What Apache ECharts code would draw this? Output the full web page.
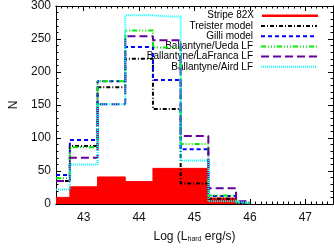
<!DOCTYPE html>
<html>
<head>
<meta charset="utf-8">
<script src="https://cdn.jsdelivr.net/npm/echarts@6/dist/echarts.min.js"></script>
<style>html,body{margin:0;padding:0;background:#fff}#c{width:334px;height:248px}</style>
</head>
<body>
<div id="c"></div>
<script>
// bin centres (log L_hard)
var centers = [42.5, 43.0, 43.5, 44.0, 44.5, 45.0, 45.5, 46.0];
var stripe82x = [10, 26, 41, 34, 54, 54, 9, 0];
var treister  = [35, 88, 177, 220, 144, 31, 8, 1];
var gilli     = [44, 97, 186, 238, 188, 83, 12, 2];
var ueda      = [39, 86, 186, 263, 237, 91, 13, 2];
var lafranca  = [35, 70, 151, 254, 248, 103, 24, 4];
var aird      = [22, 60, 151, 286, 284, 66, 4, 1];
var names = ['Stripe 82X', 'Treister model', 'Gilli model', 'Ballantyne/Ueda LF', 'Ballantyne/LaFranca LF', 'Ballantyne/Aird LF'];
var xMajor = [43, 44, 45, 46, 47];
var xMinor = [];
for (var k = 0; k <= 50; k++) { xMinor.push(Math.round((42.5 + k * 0.1) * 10) / 10); }

function pairs(v) { return centers.map(function (c, i) { return [c, v[i]]; }); }

var FONT = 'Liberation Sans, Arial, sans-serif';
var styles = [
  {color: '#ff0000', type: 'solid', width: 1},
  {color: '#000000', type: [4, 2, 1, 2], width: 2},
  {color: '#0000ff', type: [4, 3], width: 2},
  {color: '#00ee00', type: [5, 2, 1, 2, 1, 2, 1, 2], width: 2},
  {color: '#660099', type: [8, 4], width: 2},
  {color: '#00ffff', type: [1, 1], width: 2}
];
var vals = [stripe82x, treister, gilli, ueda, lafranca, aird];

var series = vals.map(function (v, i) {
  var s = {
    name: names[i], type: 'line', step: 'middle', symbol: 'none',
    xAxisIndex: 0, yAxisIndex: 0,
    data: pairs(v), color: styles[i].color,
    lineStyle: {color: styles[i].color, type: styles[i].type, width: styles[i].width},
    z: 2 + i
  };
  if (i === 0) { s.areaStyle = {color: '#ff0000', opacity: 1}; }
  return s;
});

var rowCenters = [16.7, 26.9, 37.2, 47.4, 57.6, 67.8];
var legends = names.map(function (n, i) {
  var lg = {
    data: [n], right: 16, top: rowCenters[i] - 6, align: 'right', orient: 'horizontal',
    itemWidth: 56, itemHeight: 10, itemGap: 0, padding: 0,
    selectedMode: false,
    textStyle: {fontFamily: FONT, fontSize: 10, color: '#000', padding: [0, 3, 0, 0]},
    itemStyle: {opacity: 0},
    lineStyle: {width: 2}
  };
  if (i === 0) {
    lg.icon = 'rect';
    lg.itemHeight = 2.5;
    lg.itemStyle = {color: '#ff0000', opacity: 1, borderWidth: 0};
    lg.lineStyle = {width: 0};
  }
  return lg;
});

function xAx(pos, showLab, ticks, len) {
  return {
    type: 'value', position: pos, min: 42.5, max: 47.5, gridIndex: 0,
    axisLine: {show: true, onZero: false, lineStyle: {color: '#000', width: 1}},
    axisTick: {show: true, inside: true, length: len, customValues: ticks, lineStyle: {color: '#000'}},
    axisLabel: {show: showLab, customValues: xMajor, margin: 8, fontFamily: FONT, fontSize: 12, color: '#111'},
    splitLine: {show: false}
  };
}
var xAxes = [xAx('bottom', true, xMajor, 5), xAx('bottom', false, xMinor, 2.5), xAx('top', false, xMajor, 5), xAx('top', false, xMinor, 2.5)];
xAxes[0].name = '{a|Log (L}{s|hard}{a| erg/s)}';
xAxes[0].nameLocation = 'middle';
xAxes[0].nameGap = 26;
xAxes[0].nameTextStyle = {rich: {
  a: {fontFamily: FONT, fontSize: 12, color: '#111'},
  s: {fontFamily: FONT, fontSize: 7, color: '#111', padding: [6, 0, 0, 0]}
}};

function yAx(pos, showLab) {
  return {
    type: 'value', position: pos, min: 0, max: 300, interval: 50, gridIndex: 0,
    axisLine: {show: true, onZero: false, lineStyle: {color: '#000', width: 1}},
    axisTick: {show: true, inside: true, length: 5, lineStyle: {color: '#000'}},
    minorTick: {show: true, splitNumber: 5, length: 2.5, lineStyle: {color: '#000'}},
    axisLabel: {show: showLab, margin: 5, fontFamily: FONT, fontSize: 12, color: '#111'},
    splitLine: {show: false}
  };
}
var yAxes = [yAx('left', true), yAx('right', false)];
yAxes[0].name = 'N';
yAxes[0].nameLocation = 'middle';
yAxes[0].nameGap = 36;
yAxes[0].nameTextStyle = {fontFamily: FONT, fontSize: 12, color: '#111'};

var chart = echarts.init(document.getElementById('c'), null, {renderer: 'canvas'});
chart.setOption({
  animation: false,
  backgroundColor: '#fff',
  grid: {left: 44, right: 1, top: 2.5, bottom: 34.7, containLabel: false},
  legend: legends,
  xAxis: xAxes,
  yAxis: yAxes,
  series: series
});
</script>
</body>
</html>
